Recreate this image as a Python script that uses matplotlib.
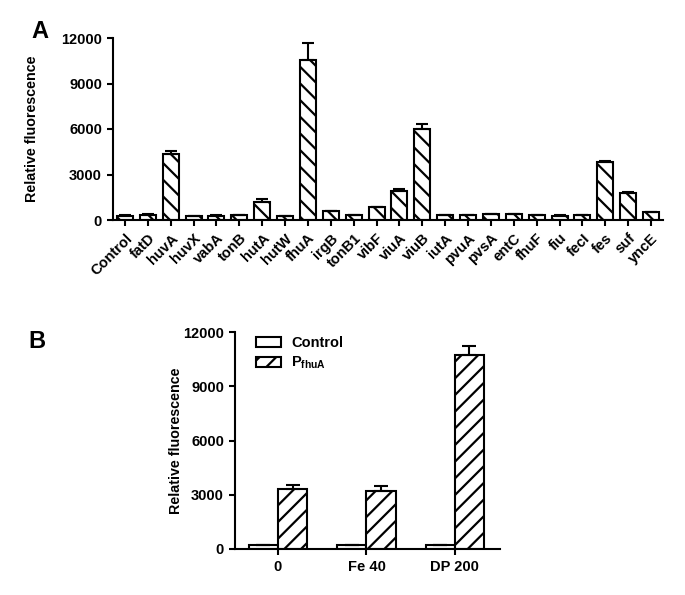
import numpy as np
import matplotlib
matplotlib.use('Agg')
import matplotlib.pyplot as plt

plt.rcParams['font.family'] = ['Liberation Sans', 'DejaVu Sans']
plt.rcParams['font.weight'] = 'bold'
plt.rcParams['mathtext.fontset'] = 'custom'
plt.rcParams['mathtext.rm'] = 'Liberation Sans:bold'
plt.rcParams['mathtext.bf'] = 'Liberation Sans:bold'
plt.rcParams['mathtext.it'] = 'Liberation Sans:bold'
plt.rcParams['hatch.linewidth'] = 1.6

# panel A data
genes = ['Control', 'fatD', 'huvA', 'huvX', 'vabA', 'tonB', 'hutA', 'hutW', 'fhuA', 'irgB',
         'tonB1', 'vibF', 'viuA', 'viuB', 'iutA', 'pvuA', 'pvsA', 'entC', 'fhuF', 'fiu',
         'fecI', 'fes', 'suf', 'yncE']
gene_vals = [250, 350, 4350, 260, 280, 300, 1200, 250, 10550, 600,
             300, 850, 1900, 5980, 320, 330, 400, 400, 340, 280,
             300, 3840, 1760, 520]
gene_err = [60, 30, 200, 30, 20, 20, 200, 30, 1150, 20,
            20, 30, 150, 370, 20, 20, 20, 20, 20, 20,
            20, 60, 100, 20]

# panel B data
conditions = ['0', 'Fe 40', 'DP 200']
control_vals = [200, 200, 200]
control_err = [20, 20, 20]
pfhua_vals = [3300, 3220, 10750]
pfhua_err = [250, 240, 480]

lw = 1.5
fig = plt.figure(figsize=(6.85, 5.95), dpi=100)

def style_axes(ax, ylabel_x):
    for s in ['top', 'right']:
        ax.spines[s].set_visible(False)
    for s in ['left', 'bottom']:
        ax.spines[s].set_linewidth(lw)
    ax.tick_params(width=lw, length=4.5, labelsize=10.5)
    ax.set_ylim(0, 12000)
    ax.set_yticks([0, 3000, 6000, 9000, 12000])
    ax.set_ylabel('Relative fluorescence', fontsize=10.3, fontweight='bold')
    ax.yaxis.set_label_coords(ylabel_x, 0.5)
    for t in ax.get_yticklabels():
        t.set_fontweight('bold')

# ---- A ----
axA = fig.add_axes([113 / 685, 1 - 220 / 595, 550 / 685, 182 / 595])
x = np.arange(len(genes))
axA.bar(x, gene_vals, width=0.7, color='white', edgecolor='black', linewidth=lw,
        hatch='\\\\', zorder=2)
axA.errorbar(x, gene_vals, yerr=[np.zeros(len(gene_err)), gene_err], fmt='none',
             ecolor='black', elinewidth=lw, capsize=4, capthick=lw, zorder=3)
axA.set_xlim(-0.52, len(genes) - 0.48)
axA.set_xticks(x)
axA.set_xticklabels(genes, rotation=45, ha='right', rotation_mode='anchor',
                    fontweight='bold')
style_axes(axA, -0.135)
fig.text(40 / 685, 1 - 31 / 595, 'A', fontsize=17, fontweight='bold', ha='center', va='center')

# ---- B ----
axB = fig.add_axes([235 / 685, 1 - 549 / 595, 265 / 685, 217 / 595])
xb = np.arange(len(conditions))
bw = 0.33
axB.bar(xb - bw / 2, control_vals, width=bw, color='white', edgecolor='black',
        linewidth=lw, label='Control', zorder=2)
axB.bar(xb + bw / 2, pfhua_vals, width=bw, color='white', edgecolor='black',
        linewidth=lw, hatch='//', label=r'$\mathbf{P_{fhuA}}$', zorder=2)
axB.errorbar(xb - bw / 2, control_vals, yerr=[np.zeros(3), control_err], fmt='none',
             ecolor='black', elinewidth=lw, capsize=5, capthick=lw, zorder=3)
axB.errorbar(xb + bw / 2, pfhua_vals, yerr=[np.zeros(3), pfhua_err], fmt='none',
             ecolor='black', elinewidth=lw, capsize=5, capthick=lw, zorder=3)
axB.set_xlim(-0.486, 2.51)
axB.set_xticks(xb)
axB.set_xticklabels(conditions, fontweight='bold')
style_axes(axB, -0.196)
leg = axB.legend(loc='upper left', bbox_to_anchor=(0.03, 1.04), frameon=False,
                 fontsize=10.5, handlelength=1.7, handleheight=0.65, handletextpad=0.7,
                 labelspacing=0.3)
for p in leg.get_patches():
    p.set_linewidth(lw)
fig.text(37 / 685, 1 - 342 / 595, 'B', fontsize=17, fontweight='bold', ha='center', va='center')

fig.savefig('out.png', dpi=100, facecolor='white')
